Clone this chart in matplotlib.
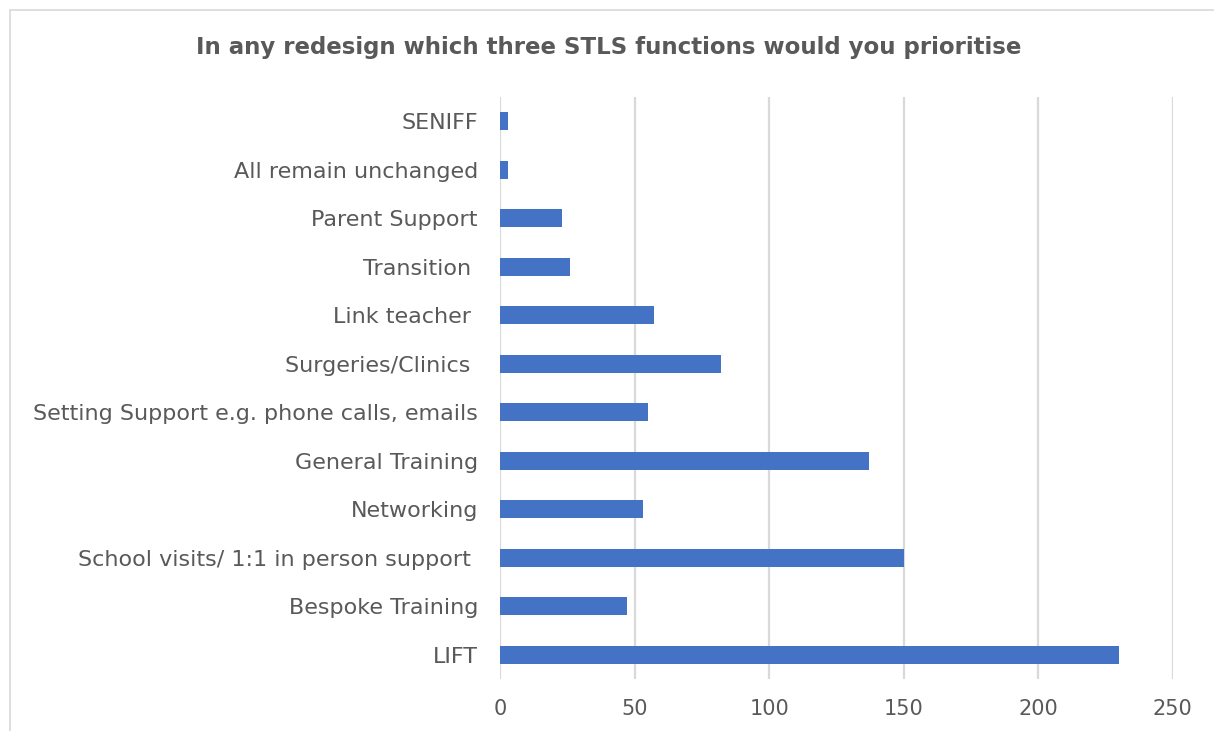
import matplotlib.pyplot as plt
from matplotlib.patches import Rectangle

# survey responses, bottom to top as drawn
categories = ['LIFT', 'Bespoke Training', 'School visits/ 1:1 in person support ',
              'Networking', 'General Training', 'Setting Support e.g. phone calls, emails',
              'Surgeries/Clinics ', 'Link teacher ', 'Transition ', 'Parent Support',
              'All remain unchanged', 'SENIFF']
counts = [230, 47, 150, 53, 137, 55, 82, 57, 26, 23, 3, 3]
xticks = [0, 50, 100, 150, 200, 250]

text_col = '#595959'
plt.rcParams['font.family'] = ['DejaVu Sans']

fig = plt.figure(figsize=(12.14, 7.31), dpi=100)
ax = fig.add_axes([0.412, 0.071, 0.554, 0.796])

ax.barh(range(len(categories)), counts, height=0.37, color='#4472C4', zorder=3)

ax.set_xlim(0, 250)
ax.set_ylim(-0.5, len(categories) - 0.5)
ax.set_xticks(xticks)
ax.set_yticks(range(len(categories)))
ax.set_yticklabels(categories)
ax.grid(axis='x', color='#D9D9D9', linewidth=1.6, zorder=0)
ax.tick_params(axis='both', length=0, labelsize=16, labelcolor=text_col)
ax.tick_params(axis='y', pad=16)
ax.tick_params(axis='x', pad=14, labelsize=15)
for s in ax.spines.values():
    s.set_visible(False)

fig.text(0.501, 0.935, 'In any redesign which three STLS functions would you prioritise',
         ha='center', va='center', fontsize=16.5, fontweight='bold', color=text_col)

# chart frame
fig.patches.append(Rectangle((10 / 1214, -0.01), 1.0, 1 - 10 / 731 + 0.01,
                             transform=fig.transFigure, fill=False,
                             edgecolor='#D9D9D9', linewidth=1.2))

fig.savefig('out.png', dpi=100)
